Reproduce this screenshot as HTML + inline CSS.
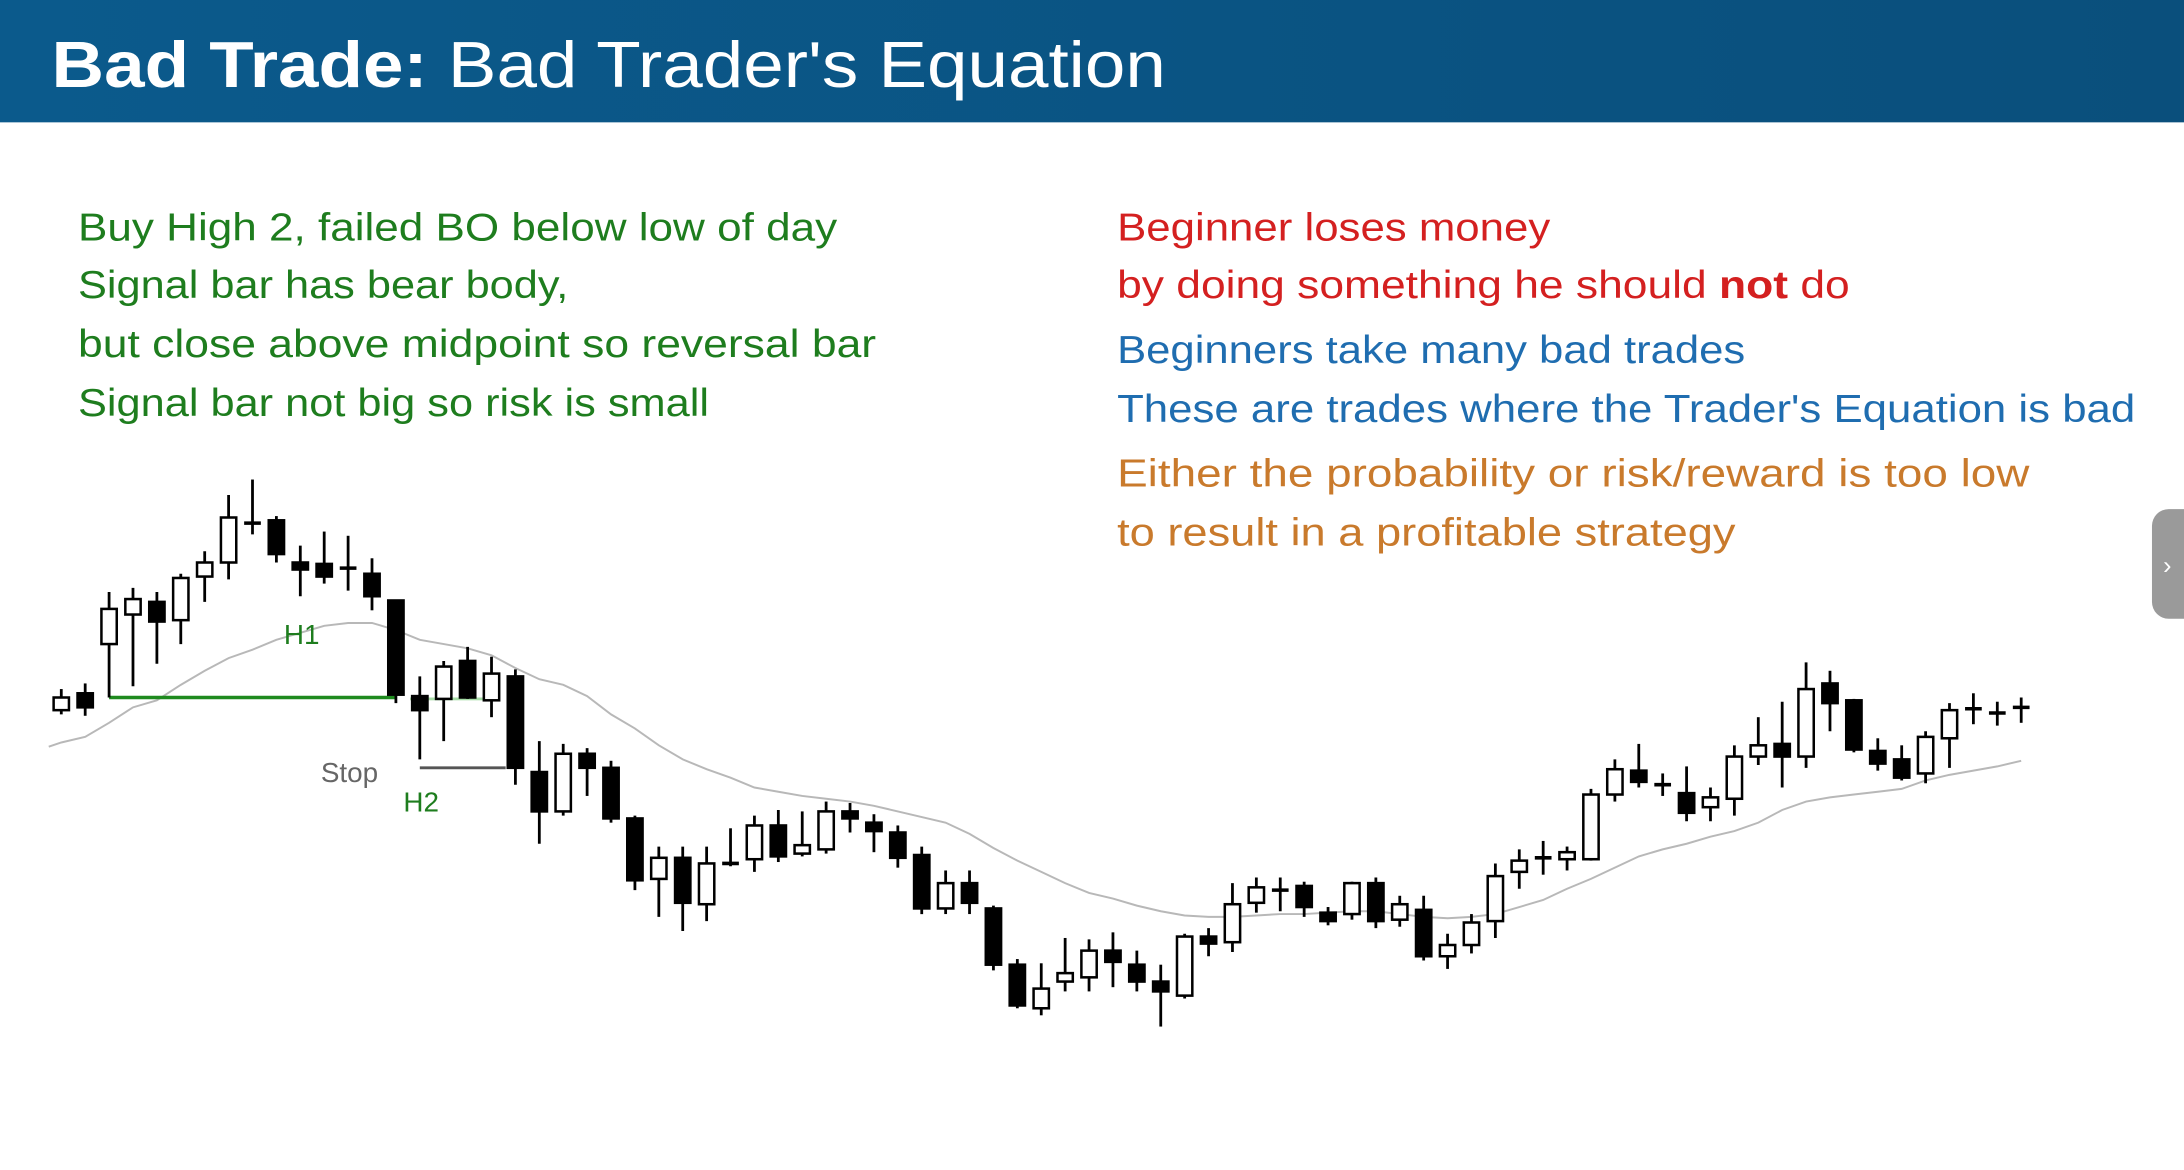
<!DOCTYPE html>
<html><head><meta charset="utf-8">
<style>
html,body{margin:0;padding:0;background:#fff;width:2184px;height:1170px;overflow:hidden}
svg{display:block}
</style></head>
<body>
<svg id="chart" width="2184" height="1170" viewBox="0 0 1568 832" preserveAspectRatio="none" xmlns="http://www.w3.org/2000/svg">
<defs><linearGradient id="hdr" x1="0" y1="0" x2="1" y2="0"><stop offset="0" stop-color="#0b5a8c"/><stop offset="1" stop-color="#0a4f7c"/></linearGradient></defs>
<rect x="0" y="0" width="1568" height="87" fill="url(#hdr)"/>
<text x="37" y="62" font-family="Liberation Sans, sans-serif" font-size="46" fill="#fff" textLength="800" lengthAdjust="spacingAndGlyphs"><tspan font-weight="bold">Bad Trade:</tspan> Bad Trader's Equation</text>
<g font-family="Liberation Sans, sans-serif" font-size="28" fill="#1e7d1e">
<text x="56" y="171" textLength="545" lengthAdjust="spacingAndGlyphs">Buy High 2, failed BO below low of day</text>
<text x="56" y="212" textLength="352" lengthAdjust="spacingAndGlyphs">Signal bar has bear body,</text>
<text x="56" y="254" textLength="573" lengthAdjust="spacingAndGlyphs">but close above midpoint so reversal bar</text>
<text x="56" y="296" textLength="453" lengthAdjust="spacingAndGlyphs">Signal bar not big so risk is small</text>
</g>
<g font-family="Liberation Sans, sans-serif" font-size="28">
<text x="802" y="171" fill="#d42020" textLength="311" lengthAdjust="spacingAndGlyphs">Beginner loses money</text>
<text x="802" y="212" fill="#d42020" textLength="526" lengthAdjust="spacingAndGlyphs">by doing something he should <tspan font-weight="bold">not</tspan> do</text>
<text x="802" y="258" fill="#1f6db0" textLength="451" lengthAdjust="spacingAndGlyphs">Beginners take many bad trades</text>
<text x="802" y="300" fill="#1f6db0" textLength="731" lengthAdjust="spacingAndGlyphs">These are trades where the Trader's Equation is bad</text>
<text x="802" y="346" fill="#c97a2c" textLength="655" lengthAdjust="spacingAndGlyphs">Either the probability or risk/reward is too low</text>
<text x="802" y="388" fill="#c97a2c" textLength="444" lengthAdjust="spacingAndGlyphs">to result in a profitable strategy</text>
</g>
<g><rect x="1545" y="362" width="40" height="78" rx="12" fill="#9a9a9a"/><text x="1553" y="408" fill="#fff" font-family="Liberation Sans, sans-serif" font-size="18">›</text></g>
<g id="plot"></g>
</svg>
<script>
const opens =[295,307,342,363,372,359,390,400,428,430,400,399,396,392,373,305,303,330,302,319,251,223,264,254,218,175,190,157,186,189,213,193,196,223,215,208,192,154,172,154,114,83,102,105,124,114,102,92,134,130,158,167,170,151,150,172,146,153,120,128,145,180,190,189,189,235,252,242,236,226,232,262,271,262,314,302,266,260,250,275,296,293,297];
const highs =[310,314,379,382,379,392,408,448,459,433,412,422,419,403,373,319,330,340,333,324,273,271,268,259,220,198,198,198,211,220,224,223,230,229,221,213,198,181,181,156,118,115,133,132,137,124,114,136,140,172,176,176,173,155,173,176,163,163,136,150,186,196,202,198,239,260,271,250,255,240,270,290,301,329,323,303,275,270,280,300,307,301,304];
const lows  =[292,291,304,312,328,342,372,388,420,400,376,385,380,366,300,260,273,303,290,242,200,220,234,215,167,148,138,145,184,180,187,191,193,208,194,183,150,150,150,110,83,78,95,95,98,95,70,90,120,123,151,152,148,142,146,140,141,117,111,122,133,168,178,181,188,230,240,234,216,216,220,256,240,254,280,265,252,245,243,254,285,284,286];
const closes=[304,297,367,374,358,389,400,432,428,406,395,390,396,376,306,295,326,304,321,254,223,264,254,218,174,190,158,186,186,213,191,199,223,218,209,190,154,172,158,114,85,97,108,124,116,102,95,134,129,157,169,167,155,145,172,145,157,120,128,144,177,188,190,194,235,253,244,242,222,233,262,270,262,310,300,267,257,247,276,295,296,293,297];
const maValues=[272,276,286,297,302,313,323,332,338,345,350,355,357,357,352,345,342,339,334,325,317,313,305,292,282,270,260,253,247,240,237,234,232,230,227,223,219,215,207,197,188,180,172,165,161,156,152,149,148,148,149,150,150,151,152,152,150,148,147,148,150,155,160,168,175,183,191,196,200,205,209,215,224,230,233,235,237,239,245,249,252,255,259];
const labels=[{text:"H1",bar:10,price:350,color:"#1e7d1e"},{text:"Stop",bar:12,price:252,color:"#666"},{text:"H2",bar:15,price:231,color:"#1e7d1e"}];
const h1Level=304, stopLevel=254;

const NS="http://www.w3.org/2000/svg";
const xS=i=>44+i*17.16;
const yS=p=>800-p;
const g=document.getElementById('plot');
function mk(t,a){const e=document.createElementNS(NS,t);for(const k in a)e.setAttribute(k,a[k]);g.appendChild(e);return e;}

let d=maValues.map((v,i)=>'L'+xS(i).toFixed(1)+','+yS(v)).join(' ');
d='M'+(xS(0)-9)+','+yS(maValues[0]-3)+' '+d;
const ma=mk('path',{d:d,fill:'none',stroke:'#b8b8b8','stroke-width':1.4});



const hlTop=yS(Math.max(opens[16],closes[17]));
const hl=mk('rect',{x:xS(15)-7,y:hlTop,width:xS(18)-xS(15)+2,height:yS(h1Level-2)-hlTop,fill:'#6cc46c',opacity:0.6});



const hline=mk('line',{x1:xS(2),x2:xS(14),y1:yS(h1Level),y2:yS(h1Level),stroke:'#1e8a1e','stroke-width':2.5});


const sline=mk('line',{x1:xS(15),x2:xS(19)-7,y1:yS(stopLevel),y2:yS(stopLevel),stroke:'#555','stroke-width':2});



for(let i=0;i<opens.length;i++){
  const x=xS(i),o=opens[i],c=closes[i];
  const cg=document.createElementNS(NS,'g');
  
  
  g.appendChild(cg);
  const w=document.createElementNS(NS,'line');
  w.setAttribute('x1',x);w.setAttribute('x2',x);w.setAttribute('y1',yS(highs[i]));w.setAttribute('y2',yS(lows[i]));
  w.setAttribute('stroke','#000');w.setAttribute('stroke-width',2);
  cg.appendChild(w);
  if(Math.abs(o-c)<1){
    const l=document.createElementNS(NS,'line');
    l.setAttribute('x1',x-6);l.setAttribute('x2',x+6);l.setAttribute('y1',yS(o));l.setAttribute('y2',yS(o));
    l.setAttribute('stroke','#000');l.setAttribute('stroke-width',2.5);
    cg.appendChild(l);
  } else {
    const r=document.createElementNS(NS,'rect');
    const top=yS(Math.max(o,c)),bot=yS(Math.min(o,c));
    r.setAttribute('x',x-5.5);r.setAttribute('y',top);r.setAttribute('width',11);r.setAttribute('height',bot-top);
    r.setAttribute('fill',c>o?'#fff':'#000');r.setAttribute('stroke','#000');r.setAttribute('stroke-width',1.8);
    cg.appendChild(r);
  }
}
labels.forEach(L=>{
  const t=mk('text',{x:xS(L.bar)+1,y:yS(L.price)+8,fill:L.color,'font-family':'Liberation Sans, sans-serif','font-size':20,'text-anchor':'middle'});
  t.textContent=L.text;
  
  
});
</script>
</body></html>
